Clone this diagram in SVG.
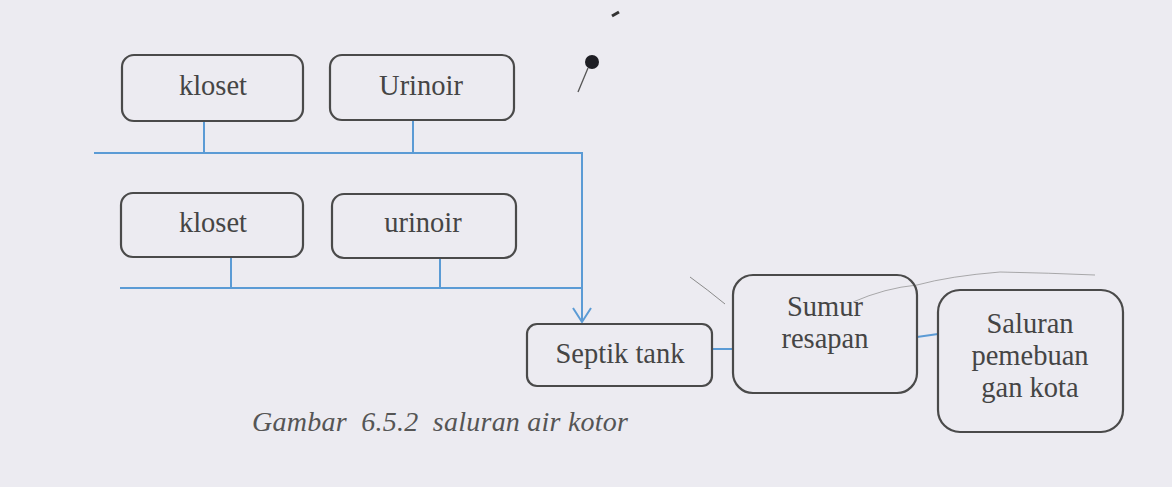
<svg xmlns="http://www.w3.org/2000/svg" width="1172" height="487" viewBox="0 0 1172 487">
<style>
.box{fill:none;stroke:#4a4a4a;stroke-width:2.2}
.lbl{font-family:"Liberation Serif","Times New Roman",serif;font-size:28.5px;fill:#454545;text-anchor:middle}
.pipe{fill:none;stroke:#5b9bd5;stroke-width:2}
.cap{font-family:"Liberation Serif","Times New Roman",serif;font-size:28px;font-style:italic;fill:#555}
.mark{fill:none;stroke:#8a8a8a;stroke-width:1}
</style>
<rect x="0" y="0" width="1172" height="487" fill="#ecebf1"/>

<g id="artifacts">
<circle cx="592" cy="62" r="7" fill="#1e1e24"/>
<path d="M588,68 L578,92" stroke="#555" stroke-width="1.3" fill="none"/>
<path d="M612,16 L619,12" stroke="#333" stroke-width="3" fill="none"/>
<path class="mark" d="M690,277 Q708,290 725,304"/>
<path class="mark" d="M853,302 Q885,288 917,285 Q950,276 1000,272 Q1050,273 1095,275" stroke-opacity="0.7"/>
</g>

<g id="connectors">
<path class="pipe" d="M204,121 V153"/>
<path class="pipe" d="M413,120 V153"/>
<path class="pipe" d="M94,153 H582 V322"/>
<path class="pipe" d="M231,257 V288"/>
<path class="pipe" d="M440,258 V288"/>
<path class="pipe" d="M120,288 H582"/>
<polyline class="pipe" points="573,308 582,322 591,308"/>
<path class="pipe" d="M712,349 H733"/>
<path class="pipe" d="M917,337 L938,334"/>
</g>

<g id="kloset1">
<rect class="box" x="122" y="55" width="181" height="66" rx="12"/>
<text class="lbl" x="213" y="95">kloset</text>
</g>
<g id="urinoir1">
<rect class="box" x="330" y="55" width="184" height="65" rx="12"/>
<text class="lbl" x="421" y="95">Urinoir</text>
</g>
<g id="kloset2">
<rect class="box" x="121" y="193" width="182" height="64" rx="12"/>
<text class="lbl" x="213" y="232">kloset</text>
</g>
<g id="urinoir2">
<rect class="box" x="332" y="194" width="184" height="64" rx="12"/>
<text class="lbl" x="423" y="232">urinoir</text>
</g>
<g id="septik">
<rect class="box" x="527" y="324" width="185" height="62" rx="10"/>
<text class="lbl" x="620" y="363">Septik tank</text>
</g>
<g id="sumur">
<rect class="box" x="733" y="275" width="184" height="118" rx="20"/>
<text class="lbl" x="825" y="316">Sumur</text>
<text class="lbl" x="825" y="348">resapan</text>
</g>
<g id="saluran">
<rect class="box" x="938" y="290" width="185" height="142" rx="22"/>
<text class="lbl" x="1030" y="333">Saluran</text>
<text class="lbl" x="1030" y="365">pemebuan</text>
<text class="lbl" x="1030" y="397">gan kota</text>
</g>

<text class="cap" x="252" y="431" xml:space="preserve" textLength="376" lengthAdjust="spacing">Gambar  6.5.2  saluran air kotor</text>
</svg>
